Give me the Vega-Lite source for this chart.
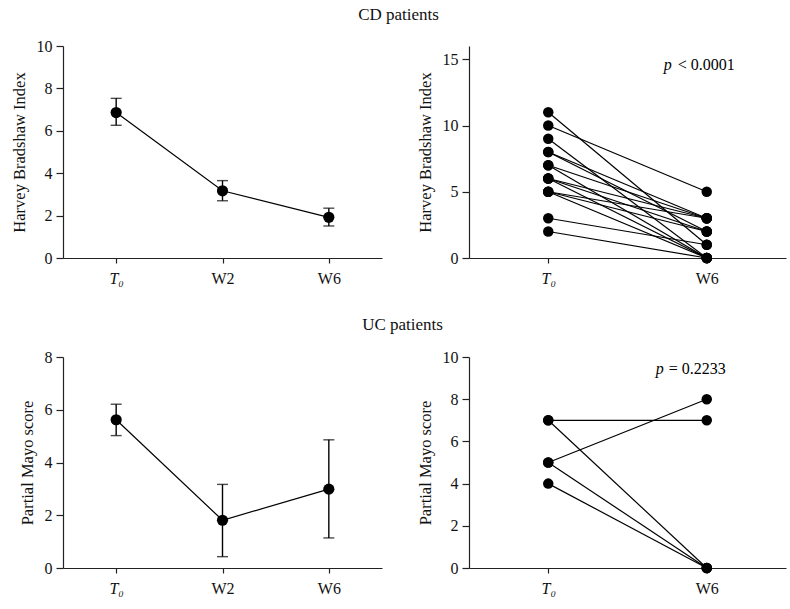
{
  "$schema": "https://vega.github.io/schema/vega-lite/v6.json",
  "padding": {"left": 11, "top": 6, "right": 5, "bottom": 5},
  "spacing": 30,
  "datasets": {
    "cd_mean": [
      {"time": "T₀", "mean": 6.86, "lo": 6.26, "hi": 7.53},
      {"time": "W2", "mean": 3.17, "lo": 2.7, "hi": 3.65},
      {"time": "W6", "mean": 1.92, "lo": 1.51, "hi": 2.35}
    ],
    "uc_mean": [
      {"time": "T₀", "mean": 5.62, "lo": 5.02, "hi": 6.21},
      {"time": "W2", "mean": 1.81, "lo": 0.43, "hi": 3.17},
      {"time": "W6", "mean": 2.99, "lo": 1.14, "hi": 4.86}
    ],
    "cd_pairs": [
      {"pid": 1, "time": "T₀", "score": 11}, {"pid": 1, "time": "W6", "score": 1},
      {"pid": 2, "time": "T₀", "score": 10}, {"pid": 2, "time": "W6", "score": 5},
      {"pid": 3, "time": "T₀", "score": 9}, {"pid": 3, "time": "W6", "score": 0},
      {"pid": 4, "time": "T₀", "score": 8}, {"pid": 4, "time": "W6", "score": 3},
      {"pid": 5, "time": "T₀", "score": 8}, {"pid": 5, "time": "W6", "score": 2},
      {"pid": 6, "time": "T₀", "score": 7}, {"pid": 6, "time": "W6", "score": 3},
      {"pid": 7, "time": "T₀", "score": 7}, {"pid": 7, "time": "W6", "score": 0},
      {"pid": 8, "time": "T₀", "score": 6}, {"pid": 8, "time": "W6", "score": 3},
      {"pid": 9, "time": "T₀", "score": 6}, {"pid": 9, "time": "W6", "score": 2},
      {"pid": 10, "time": "T₀", "score": 6}, {"pid": 10, "time": "W6", "score": 0},
      {"pid": 11, "time": "T₀", "score": 5}, {"pid": 11, "time": "W6", "score": 3},
      {"pid": 12, "time": "T₀", "score": 5}, {"pid": 12, "time": "W6", "score": 2},
      {"pid": 13, "time": "T₀", "score": 5}, {"pid": 13, "time": "W6", "score": 0},
      {"pid": 14, "time": "T₀", "score": 3}, {"pid": 14, "time": "W6", "score": 1},
      {"pid": 15, "time": "T₀", "score": 2}, {"pid": 15, "time": "W6", "score": 0}
    ],
    "uc_pairs": [
      {"pid": 1, "time": "T₀", "score": 7}, {"pid": 1, "time": "W6", "score": 7},
      {"pid": 2, "time": "T₀", "score": 7}, {"pid": 2, "time": "W6", "score": 0},
      {"pid": 3, "time": "T₀", "score": 5}, {"pid": 3, "time": "W6", "score": 8},
      {"pid": 4, "time": "T₀", "score": 5}, {"pid": 4, "time": "W6", "score": 0},
      {"pid": 5, "time": "T₀", "score": 4}, {"pid": 5, "time": "W6", "score": 0}
    ],
    "cd_p": [{"time": "W6", "y": 14.6, "p": "p", "rest": "< 0.0001"}],
    "uc_p": [{"time": "W6", "y": 9.43, "p": "p", "rest": "= 0.2233"}]
  },
  "vconcat": [
    {
      "title": {"text": "CD patients", "anchor": "middle", "offset": 14},
      "spacing": 35,
      "hconcat": [
        {
          "width": 319, "height": 212,
          "data": {"name": "cd_mean"},
          "encoding": {
            "x": {"field": "time", "type": "ordinal", "sort": ["T₀", "W2", "W6"],
                  "scale": {"type": "point", "padding": 0.5}, "title": null},
            "y": {"field": "mean", "type": "quantitative",
                  "scale": {"domain": [0, 10]}, "axis": {"values": [0, 2, 4, 6, 8, 10]},
                  "title": "Harvey Bradshaw Index"}
          },
          "layer": [
            {"mark": {"type": "line", "color": "black", "strokeWidth": 1.2}},
            {"mark": {"type": "rule", "color": "black", "strokeWidth": 1.4},
             "encoding": {"y": {"field": "lo", "type": "quantitative"}, "y2": {"field": "hi"}}},
            {"mark": {"type": "tick", "color": "black", "size": 11, "thickness": 1.4},
             "encoding": {"y": {"field": "lo", "type": "quantitative"}}},
            {"mark": {"type": "tick", "color": "black", "size": 11, "thickness": 1.4},
             "encoding": {"y": {"field": "hi", "type": "quantitative"}}},
            {"mark": {"type": "circle", "color": "black", "opacity": 1, "size": 125}}
          ]
        },
        {
          "width": 317, "height": 212,
          "encoding": {
            "x": {"field": "time", "type": "ordinal", "sort": ["T₀", "W6"],
                  "scale": {"type": "point", "padding": 0.5, "domain": ["T₀", "W6"]}, "title": null}
          },
          "layer": [
            {
              "data": {"name": "cd_pairs"},
              "encoding": {
                "y": {"field": "score", "type": "quantitative", "scale": {"domain": [0, 15]},
                      "axis": {"values": [0, 5, 10, 15]}, "title": "Harvey Bradshaw Index"},
                "detail": {"field": "pid"}
              },
              "layer": [
                {"mark": {"type": "line", "color": "black", "strokeWidth": 1.2}},
                {"mark": {"type": "circle", "color": "black", "opacity": 1, "size": 110}}
              ]
            },
            {
              "data": {"name": "cd_p"},
              "encoding": {"y": {"field": "y", "type": "quantitative"}},
              "layer": [
                {"mark": {"type": "text", "align": "right", "dx": -35, "fontStyle": "italic", "fontSize": 16, "font": "Liberation Serif"},
                 "encoding": {"text": {"field": "p"}}},
                {"mark": {"type": "text", "align": "left", "dx": -29, "fontSize": 16, "font": "Liberation Serif"},
                 "encoding": {"text": {"field": "rest"}}}
              ]
            }
          ]
        }
      ]
    },
    {
      "title": {"text": "UC patients", "anchor": "middle", "offset": 15},
      "spacing": 35,
      "hconcat": [
        {
          "width": 319, "height": 211,
          "data": {"name": "uc_mean"},
          "encoding": {
            "x": {"field": "time", "type": "ordinal", "sort": ["T₀", "W2", "W6"],
                  "scale": {"type": "point", "padding": 0.5}, "title": null},
            "y": {"field": "mean", "type": "quantitative",
                  "scale": {"domain": [0, 8]}, "axis": {"values": [0, 2, 4, 6, 8]},
                  "title": "Partial Mayo score"}
          },
          "layer": [
            {"mark": {"type": "line", "color": "black", "strokeWidth": 1.2}},
            {"mark": {"type": "rule", "color": "black", "strokeWidth": 1.4},
             "encoding": {"y": {"field": "lo", "type": "quantitative"}, "y2": {"field": "hi"}}},
            {"mark": {"type": "tick", "color": "black", "size": 11, "thickness": 1.4},
             "encoding": {"y": {"field": "lo", "type": "quantitative"}}},
            {"mark": {"type": "tick", "color": "black", "size": 11, "thickness": 1.4},
             "encoding": {"y": {"field": "hi", "type": "quantitative"}}},
            {"mark": {"type": "circle", "color": "black", "opacity": 1, "size": 125}}
          ]
        },
        {
          "width": 317, "height": 211,
          "encoding": {
            "x": {"field": "time", "type": "ordinal", "sort": ["T₀", "W6"],
                  "scale": {"type": "point", "padding": 0.5, "domain": ["T₀", "W6"]}, "title": null}
          },
          "layer": [
            {
              "data": {"name": "uc_pairs"},
              "encoding": {
                "y": {"field": "score", "type": "quantitative", "scale": {"domain": [0, 10]},
                      "axis": {"values": [0, 2, 4, 6, 8, 10]}, "title": "Partial Mayo score"},
                "detail": {"field": "pid"}
              },
              "layer": [
                {"mark": {"type": "line", "color": "black", "strokeWidth": 1.2}},
                {"mark": {"type": "circle", "color": "black", "opacity": 1, "size": 110}}
              ]
            },
            {
              "data": {"name": "uc_p"},
              "encoding": {"y": {"field": "y", "type": "quantitative"}},
              "layer": [
                {"mark": {"type": "text", "align": "right", "dx": -43, "fontStyle": "italic", "fontSize": 16, "font": "Liberation Serif"},
                 "encoding": {"text": {"field": "p"}}},
                {"mark": {"type": "text", "align": "left", "dx": -38, "fontSize": 16, "font": "Liberation Serif"},
                 "encoding": {"text": {"field": "rest"}}}
              ]
            }
          ]
        }
      ]
    }
  ],
  "config": {
    "font": "Liberation Serif",
    "view": {"stroke": null},
    "title": {"fontSize": 17, "fontWeight": "normal", "color": "#111", "font": "Liberation Serif"},
    "axis": {
      "grid": false,
      "labelFont": "Liberation Serif", "titleFont": "Liberation Serif",
      "labelFontSize": 16, "titleFontSize": 16.5, "titleFontWeight": "normal",
      "labelColor": "#111", "titleColor": "#111",
      "domainColor": "#222", "tickColor": "#222", "domainWidth": 1.2, "tickWidth": 1.2
    },
    "axisY": {"tickSize": 7, "labelPadding": 4, "titlePadding": 9},
    "axisX": {"tickSize": 5, "labelPadding": 7, "labelAngle": 0,
              "labelFontStyle": {"condition": {"test": "datum.value == 'T₀'", "value": "italic"}, "value": "normal"}}
  }
}
